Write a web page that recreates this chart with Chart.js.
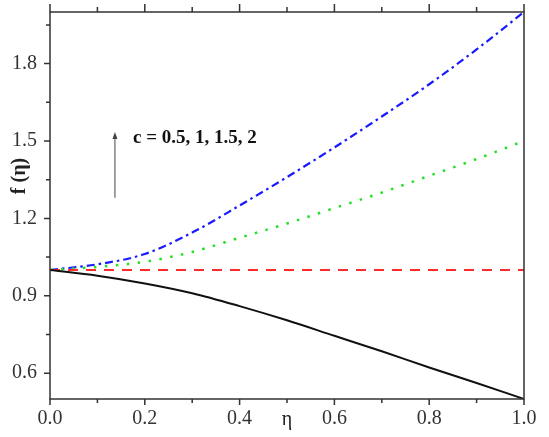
<!DOCTYPE html>
<html>
<head>
<meta charset="utf-8">
<script src="https://cdn.jsdelivr.net/npm/chart.js@4/dist/chart.umd.min.js"></script>
<style>
  html, body { margin: 0; padding: 0; background: #fff; }
  #c { display: block; }
</style>
</head>
<body>
<canvas id="c" width="549" height="437"></canvas>
<script>
// ---- data ----
const eta = [0, 0.1, 0.2, 0.3, 0.4, 0.5, 0.6, 0.7, 0.8, 0.9, 1.0];
const f_c05 = [1.0, 0.978, 0.948, 0.910, 0.860, 0.805, 0.745, 0.685, 0.622, 0.562, 0.5];
const f_c1  = [1.0, 1.0, 1.0, 1.0, 1.0, 1.0, 1.0, 1.0, 1.0, 1.0, 1.0];
const f_c15 = [1.0, 1.012, 1.032, 1.070, 1.125, 1.180, 1.240, 1.300, 1.365, 1.430, 1.5];
const f_c2  = [1.0, 1.022, 1.062, 1.145, 1.250, 1.360, 1.475, 1.595, 1.720, 1.855, 2.0];
const xMajorTicks = [0, 0.2, 0.4, 0.6, 0.8, 1.0];
const xMinorTicks = [0.1, 0.3, 0.5, 0.7, 0.9];
const yMajorTicks = [0.6, 0.9, 1.2, 1.5, 1.8];
const yMinorTicks = [0.75, 1.05, 1.35, 1.65, 1.95];
const yTitle = 'f (\u03B7)';
const xTitle = '\u03B7';
const annotationText = 'c = 0.5, 1, 1.5, 2';

const pts = (ys) => eta.map((x, i) => ({ x: x, y: ys[i] }));

const serif = "'Liberation Serif', 'Times New Roman', serif";
const axisColor = '#333';

const framePlugin = {
  id: 'frame',
  afterDraw(chart) {
    const ctx = chart.ctx;
    const xs = chart.scales.x, ys = chart.scales.y;
    const a = chart.chartArea;
    ctx.save();
    ctx.strokeStyle = axisColor;
    ctx.lineWidth = 1.5;
    ctx.beginPath();
    ctx.rect(a.left, a.top, a.right - a.left, a.bottom - a.top);
    ctx.stroke();
    ctx.beginPath();
    xMajorTicks.forEach(v => {
      const px = xs.getPixelForValue(v);
      ctx.moveTo(px, a.bottom); ctx.lineTo(px, a.bottom + 6);
      ctx.moveTo(px, a.top); ctx.lineTo(px, a.top - 8);
    });
    xMinorTicks.forEach(v => {
      const px = xs.getPixelForValue(v);
      ctx.moveTo(px, a.bottom); ctx.lineTo(px, a.bottom + 4);
      ctx.moveTo(px, a.top); ctx.lineTo(px, a.top - 5);
    });
    yMajorTicks.forEach(v => {
      const py = ys.getPixelForValue(v);
      ctx.moveTo(a.left, py); ctx.lineTo(a.left - 6, py);
    });
    yMinorTicks.forEach(v => {
      const py = ys.getPixelForValue(v);
      ctx.moveTo(a.left, py); ctx.lineTo(a.left - 4, py);
    });
    ctx.stroke();

    ctx.fillStyle = '#222';
    ctx.font = '20px ' + serif;
    ctx.textAlign = 'center';
    ctx.textBaseline = 'middle';
    ctx.fillText(xTitle, xs.getPixelForValue(0.5), 420);

    ctx.save();
    ctx.translate(20, 176);
    ctx.rotate(-Math.PI / 2);
    ctx.font = 'bold 20px ' + serif;
    ctx.textAlign = 'center';
    ctx.textBaseline = 'middle';
    ctx.fillText(yTitle, 0, 0);
    ctx.restore();

    const ax = xs.getPixelForValue(0.137);
    const ay0 = ys.getPixelForValue(1.28);
    const ay1 = ys.getPixelForValue(1.535);
    ctx.strokeStyle = '#444';
    ctx.lineWidth = 1;
    ctx.beginPath();
    ctx.moveTo(ax, ay0); ctx.lineTo(ax, ay1 + 4);
    ctx.stroke();
    ctx.fillStyle = '#444';
    ctx.beginPath();
    ctx.moveTo(ax, ay1);
    ctx.lineTo(ax - 2.5, ay1 + 7);
    ctx.lineTo(ax + 2.5, ay1 + 7);
    ctx.closePath();
    ctx.fill();

    ctx.fillStyle = '#111';
    ctx.font = 'bold 19px ' + serif;
    ctx.textAlign = 'left';
    ctx.textBaseline = 'middle';
    ctx.fillText(annotationText, xs.getPixelForValue(0.175), ys.getPixelForValue(1.51));
    ctx.restore();
  }
};

new Chart(document.getElementById('c'), {
  type: 'line',
  data: {
    datasets: [
      { label: 'c = 0.5', data: pts(f_c05), borderColor: '#111111', borderWidth: 2 },
      { label: 'c = 1', data: pts(f_c1), borderColor: '#ff2a2a', borderWidth: 2, borderDash: [10, 8] },
      { label: 'c = 1.5', data: pts(f_c15), borderColor: '#22e022', borderWidth: 2.5, borderDash: [2.5, 8.5] },
      { label: 'c = 2', data: pts(f_c2), borderColor: '#1a1aff', borderWidth: 2.2, borderDash: [8, 4, 2.5, 4] }
    ]
  },
  options: {
    responsive: false,
    animation: false,
    events: [],
    layout: { padding: { top: 12, right: 25, left: 0, bottom: 0 } },
    elements: {
      point: { radius: 0 },
      line: { cubicInterpolationMode: 'monotone', fill: false }
    },
    plugins: { legend: { display: false }, tooltip: { enabled: false } },
    scales: {
      x: {
        type: 'linear', min: 0, max: 1,
        afterFit: s => { s.height = 38; s.paddingLeft = 0; s.paddingRight = 0; },
        afterBuildTicks: s => { s.ticks = xMajorTicks.map(v => ({ value: v })); },
        grid: { display: false, drawTicks: false },
        border: { display: false },
        ticks: {
          font: { family: serif, size: 20 }, color: '#333', padding: 8,
          maxRotation: 0, autoSkip: false,
          callback: v => Number(v).toFixed(1)
        }
      },
      y: {
        type: 'linear', min: 0.5, max: 2.0,
        afterFit: s => { s.width = 50; s.paddingTop = 0; s.paddingBottom = 0; },
        afterBuildTicks: s => { s.ticks = yMajorTicks.map(v => ({ value: v })); },
        grid: { display: false, drawTicks: false },
        border: { display: false },
        ticks: {
          font: { family: serif, size: 20 }, color: '#333', padding: 13,
          autoSkip: false,
          callback: v => Number(v).toFixed(1)
        }
      }
    }
  },
  plugins: [framePlugin]
});
</script>
</body>
</html>
